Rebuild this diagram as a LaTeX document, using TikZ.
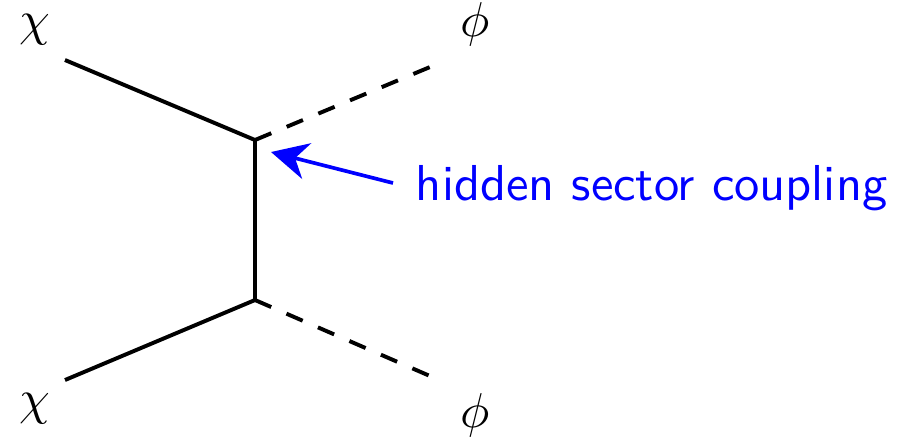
\documentclass[tikz,border=0pt]{standalone}
\usetikzlibrary{arrows.meta}
\begin{document}
\begin{tikzpicture}[x=0.204pt,y=-0.204pt,
  fermion/.style={line width=0.8pt},
  scalar/.style={line width=0.8pt,dash pattern=on 3.6pt off 3.4pt},
  lbl/.style={inner sep=0pt},
  note/.style={inner sep=0pt,text=blue,font=\sffamily\fontsize{10.3}{12}\selectfont,anchor=west},
  noteline/.style={blue,line width=0.75pt,-{Stealth[length=7.5pt,width=7.5pt]}}]
\useasboundingbox (0,0) rectangle (900,438);
\coordinate (a1) at (65,60);
\coordinate (a2) at (65,380);
\coordinate (v1) at (255,140);
\coordinate (v2) at (255,300);
\coordinate (b1) at (430,67);
\coordinate (b2) at (430,376);
\coordinate (t) at (393,183);
\coordinate (h) at (271,152);
\draw[fermion] (a1) -- (v1) -- (v2) -- (a2);
\draw[scalar] (v1) -- (b1);
\draw[scalar] (v2) -- (b2);
\node[lbl] (c1) at (35,30) {$\chi$};
\node[lbl] (c2) at (35,409) {$\chi$};
\node[lbl] (p1) at (475,24) {$\phi$};
\node[lbl] (p2) at (475,415) {$\phi$};
\node[note] (n) at (415,188) {hidden sector coupling};
\draw[noteline] (t) -- (h);
\end{tikzpicture}
\end{document}
